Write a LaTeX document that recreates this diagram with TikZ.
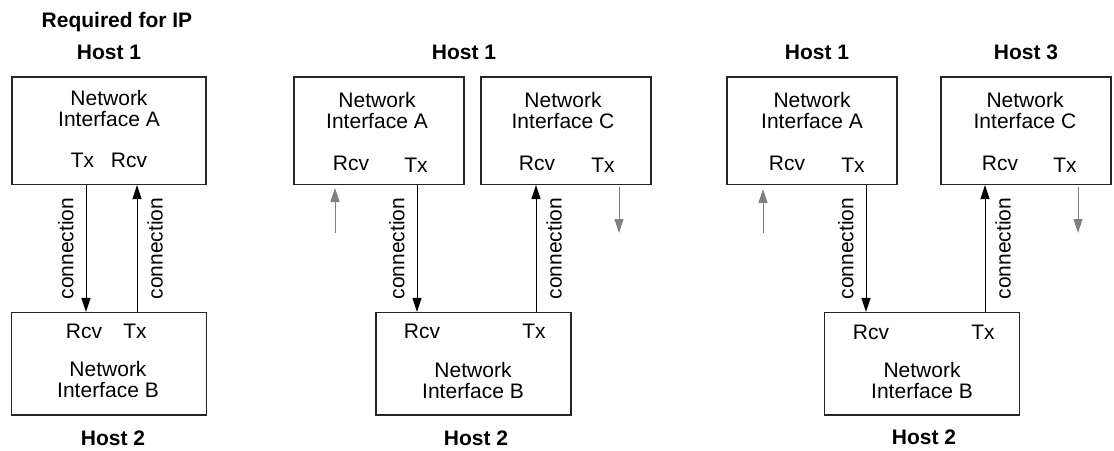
\documentclass[tikz,border=0pt]{standalone}
\usepackage{fontspec}
\setmainfont{Liberation Sans}
\usetikzlibrary{arrows.meta}

\tikzset{
  iface/.style={draw=black!85, line width=1.1pt, inner sep=0pt},
  boxA/.style={iface, minimum width=170pt, minimum height=107.5pt},
  boxB/.style={iface, minimum width=194.5pt, minimum height=102.5pt},
  lbl/.style={font=\fontsize{21}{21}\selectfont, align=center, inner sep=0pt},
  port/.style={lbl, anchor=base},
  host/.style={font=\fontsize{21}{21}\selectfont\bfseries, inner sep=0pt, anchor=base},
  conn/.style={font=\fontsize{21}{21}\selectfont, rotate=90},
  connl/.style={conn, anchor=south, inner sep=12pt},
  connr/.style={conn, anchor=north, inner sep=10pt},
  link/.style={->, line width=1pt},
  stub/.style={->, line width=1pt, gray},
}

\begin{document}
\begin{tikzpicture}[>={Triangle[length=14pt,width=9pt]}, x=1pt, y=-1pt]
\useasboundingbox (0,0) rectangle (1114,450);

% required for IP
\node[host] (req) at (117,27) {Required for IP};
\node[host] (h1a) at (109,59) {Host 1};
\node[iface, minimum width=194pt, minimum height=107.5pt] (ifA1) at (109,130.75) {};
\node[lbl] (nA1) at (109,108) {Network\\Interface A};
\node[port] (txA1) at (82.5,167) {Tx};
\node[port] (rcvA1) at (129,167) {Rcv};
\node[boxB] (ifB1) at (109,363.75) {};
\node[port] (rcvB1) at (84,338) {Rcv};
\node[port] (txB1) at (135,338) {Tx};
\node[lbl] (nB1) at (108,379) {Network\\Interface B};
\node[host] (h2a) at (113,445) {Host 2};

\coordinate (d1) at (86,0);
\coordinate (u1) at (137,0);
\draw[link] (ifA1.south -| d1) -- node[connl] {connection} (ifB1.north -| d1);
\draw[link] (ifB1.north -| u1) -- node[connr] {connection} (ifA1.south -| u1);

% one host, two interfaces
\node[host] (h1b) at (464,59) {Host 1};
\node[boxA] (ifA2) at (379,130.75) {};
\node[lbl] (nA2) at (377,110.5) {Network\\Interface A};
\node[port] (rcvA2) at (351,170) {Rcv};
\node[port] (txA2) at (416,172) {Tx};
\node[boxA] (ifC2) at (566,130.75) {};
\node[lbl] (nC2) at (563,110.5) {Network\\Interface C};
\node[port] (rcvC2) at (537,170) {Rcv};
\node[port] (txC2) at (603,172) {Tx};
\node[iface, minimum width=195pt, minimum height=102.5pt] (ifB2) at (473.5,363.75) {};
\node[port] (rcvB2) at (422,338) {Rcv};
\node[port] (txB2) at (534,338) {Tx};
\node[lbl] (nB2) at (473,380) {Network\\Interface B};
\node[host] (h2b) at (476,445) {Host 2};

\coordinate (d2) at (417,0);
\coordinate (u2) at (536,0);
\draw[link] (ifA2.south -| d2) -- node[connl] {connection} (ifB2.north -| d2);
\draw[link] (ifB2.north -| u2) -- node[connr] {connection} (ifC2.south -| u2);

\coordinate (inA2) at (335,233);
\coordinate (inA2t) at (335,188);
\coordinate (outC2) at (619,187);
\coordinate (outC2t) at (619,233);
\draw[stub] (inA2) -- (inA2t);
\draw[stub] (outC2) -- (outC2t);

% three hosts
\node[host] (h1c) at (817,59) {Host 1};
\node[host] (h3c) at (1026,59) {Host 3};
\node[boxA] (ifA3) at (812,130.75) {};
\node[lbl] (nA3) at (812,110.5) {Network\\Interface A};
\node[port] (rcvA3) at (787,170) {Rcv};
\node[port] (txA3) at (853,172) {Tx};
\node[boxA] (ifC3) at (1026,130.75) {};
\node[lbl] (nC3) at (1025,110.5) {Network\\Interface C};
\node[port] (rcvC3) at (1000,170) {Rcv};
\node[port] (txC3) at (1065,172) {Tx};
\node[boxB] (ifB3) at (922,363.75) {};
\node[port] (rcvB3) at (871,339) {Rcv};
\node[port] (txB3) at (983,339) {Tx};
\node[lbl] (nB3) at (922,380.5) {Network\\Interface B};
\node[host] (h2c) at (924,444) {Host 2};

\coordinate (d3) at (866,0);
\coordinate (u3) at (985,0);
\draw[link] (ifA3.south -| d3) -- node[connl] {connection} (ifB3.north -| d3);
\draw[link] (ifB3.north -| u3) -- node[connr] {connection} (ifC3.south -| u3);

\coordinate (inA3) at (763,233);
\coordinate (inA3t) at (763,189);
\coordinate (outC3) at (1078,187);
\coordinate (outC3t) at (1078,233);
\draw[stub] (inA3) -- (inA3t);
\draw[stub] (outC3) -- (outC3t);
\end{tikzpicture}
\end{document}
